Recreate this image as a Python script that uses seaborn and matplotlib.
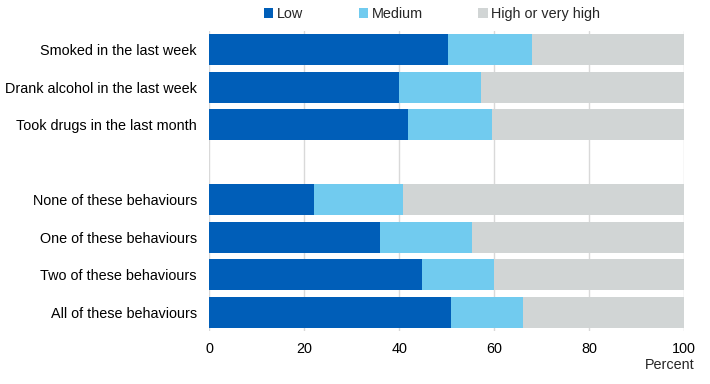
import matplotlib
matplotlib.use("Agg")
import matplotlib.pyplot as plt
import seaborn as sns
import pandas as pd
import numpy as np
from matplotlib.patches import Patch

categories = ["Smoked in the last week", "Drank alcohol in the last week",
              "Took drugs in the last month",
              "None of these behaviours", "One of these behaviours",
              "Two of these behaviours", "All of these behaviours"]
low = [50.3, 39.9, 41.8, 22.0, 35.9, 44.8, 50.9]
medium = [17.6, 17.4, 17.7, 18.8, 19.4, 15.1, 15.1]
high = [32.1, 42.7, 40.5, 59.2, 44.7, 40.1, 34.0]
series = ["Low", "Medium", "High or very high"]
colors = ["#005EB8", "#71CBEF", "#D1D5D5"]
xticks = [0, 20, 40, 60, 80, 100]

order = categories[:3] + [" "] + categories[3:]

df = pd.DataFrame({"cat": categories, "low": low, "medium": medium, "high": high})
df["c1"] = df["low"]
df["c2"] = df["low"] + df["medium"]
df["c3"] = df["low"] + df["medium"] + df["high"]

sns.set_style("white")
plt.rcParams["font.family"] = ["Liberation Sans", "DejaVu Sans"]
FS = 10.4

fig = plt.figure(figsize=(7.1, 3.84), dpi=100)
ax = fig.add_axes([209.3 / 710, 1 - 331 / 384, 475 / 710, 300 / 384])

for col, color in zip(["c3", "c2", "c1"], colors[::-1]):
    sns.barplot(data=df, x=col, y="cat", order=order, color=color,
                orient="h", width=0.82, ax=ax, saturation=1, zorder=3,
                linewidth=0)

ax.set_xlim(0, 100)
ax.set_xticks(xticks)
ax.set_xticklabels([str(t) for t in xticks])
ax.grid(axis="x", color="#D9D9D9", linewidth=1, zorder=0)
ax.set_axisbelow(True)
for s in ax.spines.values():
    s.set_visible(False)
ax.tick_params(axis="both", length=0, labelsize=FS, colors="#000000")
ax.tick_params(axis="x", pad=8)
ax.tick_params(axis="y", pad=9)
ax.set_xlabel("")
ax.set_ylabel("")

fig.text(695 / 710, 1 - 365 / 384, "Percent", ha="right", va="center", fontsize=FS)

handles = [Patch(facecolor=c, edgecolor="none") for c in colors]
fig.legend(handles, series, loc="center", bbox_to_anchor=(432 / 710, 1 - 14 / 384),
           ncol=3, frameon=False, fontsize=FS, handlelength=0.65, handleheight=0.65,
           handletextpad=0.25, columnspacing=3.85)

fig.savefig("out.png", dpi=100)
